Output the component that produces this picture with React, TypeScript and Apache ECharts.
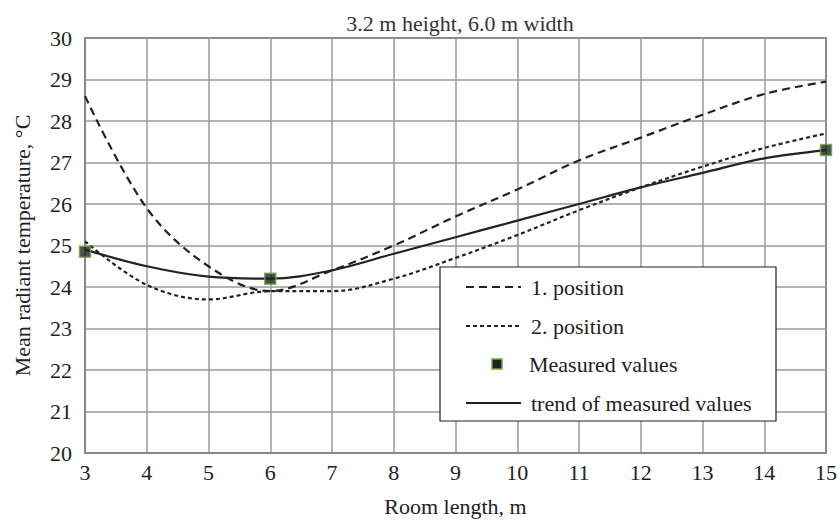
import React, { useEffect, useRef } from "react";
import * as echarts from "echarts";

const roomLength = [3, 4, 5, 6, 7, 8, 9, 10, 11, 12, 13, 14, 15];
const position1 = [28.6, 25.9, 24.5, 23.9, 24.4, 25.0, 25.7, 26.35, 27.05, 27.6, 28.15, 28.65, 28.95];
const position2 = [25.1, 24.05, 23.7, 23.9, 23.9, 24.2, 24.7, 25.25, 25.85, 26.4, 26.9, 27.35, 27.7];
const trend = [24.9, 24.5, 24.25, 24.2, 24.4, 24.8, 25.2, 25.6, 26.0, 26.4, 26.75, 27.1, 27.3];
const measuredX = [3, 6, 15];
const measuredY = [24.85, 24.2, 27.3];
const legendNames = ["1. position", "2. position", "Measured values", "trend of measured values"];

const SERIF = "Liberation Serif";
const INK = "#222";
const GREEN = "#6aaa3a";
const FS = 22;

export default function App() {
  const ref = useRef<HTMLDivElement>(null);
  useEffect(() => {
    if (!ref.current) return;
    const chart = echarts.init(ref.current, undefined, { renderer: "svg" });
    const pair = (xs: number[], ys: number[]) => xs.map((x, i) => [x, ys[i]]);

    const lx = 440, ly = 267, lw = 336, lh = 154;
    const rowY = [287, 326, 364, 403];
    const sx0 = 466, sx1 = 521, tx = 531;
    const legendGraphics: any[] = [
      { type: "rect", shape: { x: lx, y: ly, width: lw, height: lh }, style: { fill: "#fff", stroke: INK, lineWidth: 1.2 }, z: 100 },
      { type: "line", shape: { x1: sx0, y1: rowY[0], x2: sx1, y2: rowY[0] }, style: { stroke: INK, lineWidth: 2.2, lineDash: [8, 5] }, z: 101 },
      { type: "line", shape: { x1: sx0, y1: rowY[1], x2: sx1, y2: rowY[1] }, style: { stroke: INK, lineWidth: 2.2, lineDash: [4, 3] }, z: 101 },
      { type: "rect", shape: { x: 492, y: rowY[2] - 5, width: 10, height: 10 }, style: { fill: INK, stroke: GREEN, lineWidth: 1.5 }, z: 101 },
      { type: "line", shape: { x1: sx0, y1: rowY[3], x2: sx1, y2: rowY[3] }, style: { stroke: INK, lineWidth: 2.2 }, z: 101 },
      ...legendNames.map((n, i) => ({
        type: "text",
        x: i === 2 ? 529 : tx,
        y: rowY[i],
        style: { text: n, fill: INK, font: `${FS}px ${SERIF}`, textVerticalAlign: "middle", textAlign: "left" },
        z: 101,
      })),
    ];

    chart.setOption({
      animation: false,
      backgroundColor: "#fff",
      textStyle: { fontFamily: SERIF },
      title: {
        text: "3.2 m height, 6.0 m width",
        left: 455,
        textAlign: "center",
        top: 7,
        textStyle: { fontFamily: SERIF, fontSize: FS, fontWeight: "normal", color: "#333" },
      },
      grid: {
        left: 85,
        right: 13,
        top: 38,
        bottom: 68,
        show: true,
        borderColor: "#333",
        borderWidth: 1.5,
      },
      xAxis: {
        type: "value",
        min: 3,
        max: 15,
        interval: 1,
        name: "Room length, m",
        nameLocation: "middle",
        nameGap: 42,
        nameTextStyle: { fontFamily: SERIF, fontSize: FS, color: INK },
        axisLine: { show: true, lineStyle: { color: "#888", width: 2 } },
        axisTick: { show: false },
        axisLabel: { fontFamily: SERIF, fontSize: FS, color: INK, margin: 8 },
        splitLine: { show: true, lineStyle: { color: "#9a9a9a", width: 1.5 } },
      },
      yAxis: {
        type: "value",
        min: 20,
        max: 30,
        interval: 1,
        name: "Mean radiant temperature, °C",
        nameLocation: "middle",
        nameGap: 52,
        nameTextStyle: { fontFamily: SERIF, fontSize: FS, color: INK },
        axisLine: { show: true, lineStyle: { color: "#888", width: 2 } },
        axisTick: { show: false },
        axisLabel: { fontFamily: SERIF, fontSize: FS, color: INK, margin: 13 },
        splitLine: { show: true, lineStyle: { color: "#9a9a9a", width: 1.5 } },
      },
      graphic: legendGraphics,
      series: [
        {
          name: "1. position",
          type: "line",
          data: pair(roomLength, position1),
          smooth: 0.35,
          symbol: "none",
          lineStyle: { color: INK, width: 2.2, type: [8, 5] },
          z: 3,
        },
        {
          name: "2. position",
          type: "line",
          data: pair(roomLength, position2),
          smooth: 0.35,
          symbol: "none",
          lineStyle: { color: INK, width: 2.2, type: [4, 3] },
          z: 3,
        },
        {
          name: "trend of measured values",
          type: "line",
          data: pair(roomLength, trend),
          smooth: 0.35,
          symbol: "none",
          lineStyle: { color: INK, width: 2.2 },
          z: 4,
        },
        {
          name: "Measured values",
          type: "scatter",
          data: pair(measuredX, measuredY),
          symbol: "rect",
          symbolSize: 11,
          itemStyle: { color: INK, borderColor: GREEN, borderWidth: 1.5 },
          z: 5,
        },
      ],
    });
    return () => chart.dispose();
  }, []);
  return <div ref={ref} style={{ width: 840, height: 522, position: "absolute", left: 0, top: 0 }} />;
}
